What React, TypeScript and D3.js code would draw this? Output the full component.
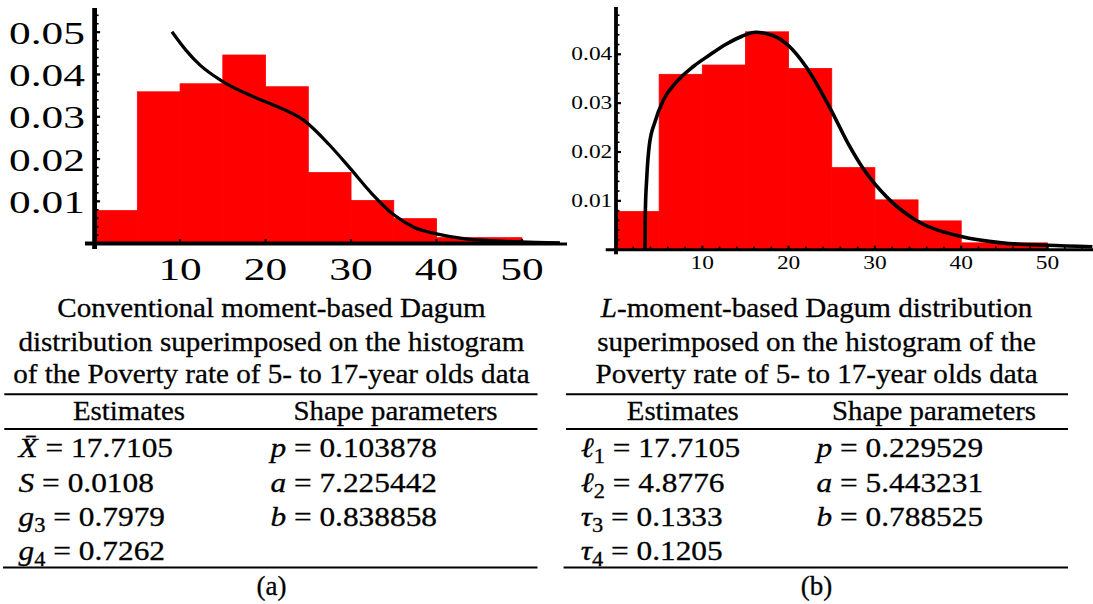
import React from 'react';
import * as d3 from 'd3';

// ---------- data ----------
const binStarts = [0, 5, 10, 15, 20, 25, 30, 35, 40, 45];
const binWidth = 5;
const densities = [0.0078, 0.0359, 0.0378, 0.0446, 0.0371, 0.0168, 0.0102, 0.0059, 0.0014, 0.0014];

// conventional moment-based Dagum pdf (panel a)
const momentCurveX = [9.05, 10.7, 12.34, 14.85, 18.4, 21.6, 24.45, 27.4, 29.9, 32.4, 35.0, 37.4, 40.0, 43.4, 47.4, 51.6, 54.4];
const momentCurveY = [0.0501, 0.0457, 0.0422, 0.0385, 0.0349, 0.0322, 0.0292, 0.0235, 0.0178, 0.0119, 0.0068, 0.0038, 0.0023, 0.0011, 0.0006, 0.0003, 0.0002];

// L-moment-based Dagum pdf (panel b)
const lmomentCurveX = [3.36, 3.4, 3.56, 3.86, 4.52, 5.48, 7.04, 8.96, 10.8, 12.7, 14.6, 16.2, 18.1, 20.1, 22.0, 24.8, 27.0, 28.6, 31.7, 34.7, 40.0, 44.7, 50.0, 55.2];
const lmomentCurveY = [0, 0.0078, 0.0146, 0.0214, 0.0262, 0.0306, 0.0344, 0.0375, 0.0398, 0.042, 0.0437, 0.0445, 0.0439, 0.0416, 0.0375, 0.029, 0.0214, 0.0167, 0.0102, 0.0061, 0.0027, 0.0014, 0.0009, 0.0006];

const xTickValues = [10, 20, 30, 40, 50];
const leftYTickValues = [0.01, 0.02, 0.03, 0.04, 0.05];
const rightYTickValues = [0.01, 0.02, 0.03, 0.04];

const captionA = [
  'Conventional moment-based Dagum',
  'distribution superimposed on the histogram',
  'of the Poverty rate of 5- to 17-year olds data',
];
const captionB = [
  'superimposed on the histogram of the',
  'Poverty rate of 5- to 17-year olds data',
];
const tableHeaders = ['Estimates', 'Shape parameters'];

const estSymbolsA = ['X\u0304', 'S', 'g', 'g'];
const estSubsA = ['', '', '3', '4'];
const estValuesA = ['17.7105', '0.0108', '0.7979', '0.7262'];
const estSymbolsB = ['\u2113', '\u2113', '\u03C4', '\u03C4'];
const estSubsB = ['1', '2', '3', '4'];
const estValuesB = ['17.7105', '4.8776', '0.1333', '0.1205'];
const shapeSymbols = ['p', 'a', 'b'];
const shapeValuesA = ['0.103878', '7.225442', '0.838858'];
const shapeValuesB = ['0.229529', '5.443231', '0.788525'];

const SERIF = '"Liberation Serif", "Times New Roman", serif';

type PanelProps = {
  x0: number; x50: number; y0: number; yRef: number; yRefVal: number;
  yTop: number; xEnd: number; xStart: number; yBottom: number;
  curveX: number[]; curveY: number[]; yTicks: number[];
  axisW: number; curveW: number; labelSize: number; labelScale: number;
  yLabelRight: number; yLabelDy: number; xLabelBase: number; xMinor: boolean;
};

function Panel(p: PanelProps) {
  const x = d3.scaleLinear().domain([0, 50]).range([p.x0, p.x50]);
  const y = d3.scaleLinear().domain([0, p.yRefVal]).range([p.y0, p.yRef]);
  const yMax = y.invert(p.yTop);
  const xMax = x.invert(p.xEnd);
  const line = d3.line<number>()
    .x((_, i) => x(p.curveX[i]))
    .y((_, i) => y(p.curveY[i]))
    .curve(d3.curveMonotoneX);
  const minorY = d3.range(0.002, yMax, 0.002);
  const minorX = d3.range(2, xMax, 2);
  return (
    <g>
      {binStarts.map((b, i) => (
        <rect key={i} x={x(b)} y={y(densities[i])} width={x(b + binWidth) - x(b)}
          height={y(0) - y(densities[i])} fill="#ff0000" stroke="#ff0000" strokeWidth={0.8} />
      ))}
      <path d={line(p.curveX) || ''} fill="none" stroke="#000" strokeWidth={p.curveW} strokeLinejoin="round" />
      {/* axes */}
      <line x1={p.xStart} x2={p.xEnd} y1={y(0)} y2={y(0)} stroke="#000" strokeWidth={p.axisW} />
      <line x1={x(0)} x2={x(0)} y1={p.yTop} y2={p.yBottom} stroke="#000" strokeWidth={p.axisW + 0.8} />
      {minorY.map((v, i) => (
        <line key={'my' + i} x1={x(0)} x2={x(0) + p.axisW / 2 + 2} y1={y(v)} y2={y(v)} stroke="#000" strokeWidth={1.6} />
      ))}
      {p.yTicks.map((v) => (
        <line key={'yt' + v} x1={x(0)} x2={x(0) + p.axisW / 2 + 3.5} y1={y(v)} y2={y(v)} stroke="#000" strokeWidth={2.2} />
      ))}
      {p.xMinor && minorX.map((v, i) => (
        <line key={'mx' + i} x1={x(v)} x2={x(v)} y1={y(0)} y2={y(0) - p.axisW / 2 - 1.8} stroke="#000" strokeWidth={1.6} />
      ))}
      {xTickValues.map((v) => (
        <line key={'xt' + v} x1={x(v)} x2={x(v)} y1={y(0)} y2={y(0) - p.axisW / 2 - 2.5} stroke="#000" strokeWidth={2.2} />
      ))}
      {p.yTicks.map((v) => (
        <text key={'yl' + v} transform={`translate(${p.yLabelRight},${y(v) + p.yLabelDy}) scale(${p.labelScale},1)`}
          textAnchor="end" fontFamily={SERIF} fontSize={p.labelSize} fill="#000">{v.toFixed(2)}</text>
      ))}
      {xTickValues.map((v) => (
        <text key={'xl' + v} transform={`translate(${x(v)},${p.xLabelBase}) scale(${p.labelScale},1)`}
          textAnchor="middle" fontFamily={SERIF} fontSize={p.labelSize} fill="#000">{v}</text>
      ))}
    </g>
  );
}

type TableProps = {
  cx: number; left: number; right: number; bottomLeft: number;
  col1: number; col2: number; head1: number; head2: number;
  symbols: string[]; subs: string[]; values: string[]; shapeVals: string[];
  title: React.ReactNode[]; label: string;
};

const captionBase = [316.7, 351, 383.3];
const rowBase = [456.7, 491.7, 526, 560];

function Table(t: TableProps) {
  return (
    <g fontFamily={SERIF} fill="#000" stroke="#000" strokeWidth={0.3}>
      {t.title.map((c, i) => (
        <text key={i} transform={`translate(${t.cx},${captionBase[i]}) scale(1.04,1)`} textAnchor="middle" fontSize={28}>{c}</text>
      ))}
      <line x1={t.left} x2={t.right} y1={394.3} y2={394.3} stroke="#000" strokeWidth={2} />
      <line x1={t.left} x2={t.right} y1={429} y2={429} stroke="#000" strokeWidth={2} />
      <line x1={t.bottomLeft} x2={t.right} y1={567.5} y2={567.5} stroke="#000" strokeWidth={2} />
      <text transform={`translate(${t.head1},420) scale(1.03,1)`} textAnchor="middle" fontSize={28}>{tableHeaders[0]}</text>
      <text transform={`translate(${t.head2},420) scale(1.03,1)`} textAnchor="middle" fontSize={28}>{tableHeaders[1]}</text>
      {t.symbols.map((s, i) => (
        <text key={'e' + i} transform={`translate(${t.col1},${rowBase[i]}) scale(1.12,1)`} fontSize={28}>
          <tspan fontStyle="italic">{s}</tspan>
          {t.subs[i] ? <tspan fontSize={20} dy={6}>{t.subs[i]}</tspan> : null}
          <tspan dy={t.subs[i] ? -6 : 0}>{' = ' + t.values[i]}</tspan>
        </text>
      ))}
      {shapeSymbols.map((s, i) => (
        <text key={'s' + i} transform={`translate(${t.col2},${rowBase[i]}) scale(1.12,1)`} fontSize={28}>
          <tspan fontStyle="italic">{s}</tspan>
          <tspan>{' = ' + t.shapeVals[i]}</tspan>
        </text>
      ))}
      <text x={t.cx} y={595} textAnchor="middle" fontSize={27}>{t.label}</text>
    </g>
  );
}

export default function App() {
  return (
    <svg width={1093} height={604} style={{ position: 'absolute', left: 0, top: 0, background: '#fff' }}>
      <rect x={0} y={0} width={1093} height={604} fill="#fff" />
      <Panel x0={94.6} x50={522} y0={243.6} yRef={32.2} yRefVal={0.05} yTop={8} xEnd={560} xStart={85}
        yBottom={249} curveX={momentCurveX} curveY={momentCurveY} yTicks={leftYTickValues}
        axisW={4} curveW={3.2} labelSize={31} labelScale={1.4} yLabelRight={85} yLabelDy={11.5}
        xLabelBase={280} xMinor={false} />
      <Panel x0={616} x50={1047.5} y0={249.7} yRef={54.3} yRefVal={0.04} yTop={7} xEnd={1093} xStart={605.7}
        yBottom={254.3} curveX={lmomentCurveX} curveY={lmomentCurveY} yTicks={rightYTickValues}
        axisW={3} curveW={3.6} labelSize={18} labelScale={1.3} yLabelRight={612.3} yLabelDy={5.8}
        xLabelBase={269} xMinor={true} />
      <line x1={560} x2={567} y1={244} y2={244} stroke="#000" strokeWidth={3} />
      <Table cx={271.4} left={4.3} right={537.5} bottomLeft={3} col1={18.6} col2={270.4} head1={129} head2={395.5}
        symbols={estSymbolsA} subs={estSubsA} values={estValuesA} shapeVals={shapeValuesA}
        title={captionA} label="(a)" />
      <Table cx={816.6} left={566} right={1068} bottomLeft={563.6} col1={580.7} col2={816.5} head1={682.8} head2={934}
        symbols={estSymbolsB} subs={estSubsB} values={estValuesB} shapeVals={shapeValuesB}
        title={[
          <tspan key="t"><tspan fontStyle="italic">L</tspan>-moment-based Dagum distribution</tspan>,
          captionB[0], captionB[1]]} label="(b)" />
    </svg>
  );
}
